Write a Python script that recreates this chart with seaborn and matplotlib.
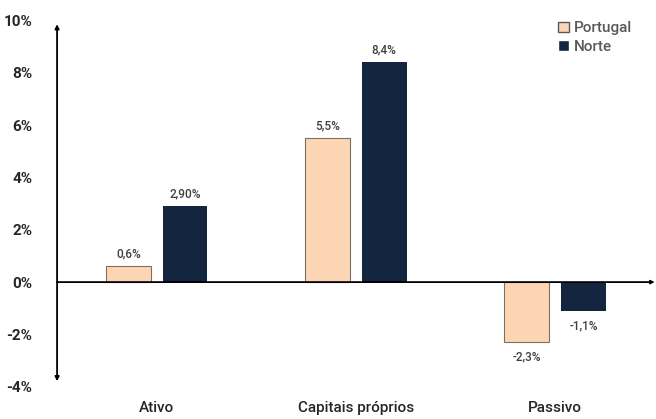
import pandas as pd
import matplotlib.pyplot as plt
import seaborn as sns

# ------------------------------
# Data
# ------------------------------
categories = ['Ativo', 'Capitais próprios', 'Passivo']
portugal = [0.6, 5.5, -2.3]
norte = [2.9, 8.4, -1.1]
portugal_labels = ['0,6%', '5,5%', '-2,3%']
norte_labels = ['2,90%', '8,4%', '-1,1%']
yticks = [-4, -2, 0, 2, 4, 6, 8, 10]

df = pd.DataFrame({
    'categoria': categories * 2,
    'serie': ['Portugal'] * 3 + ['Norte'] * 3,
    'valor': portugal + norte,
})

sns.set_style('white')
plt.rcParams['font.family'] = ['Roboto', 'DejaVu Sans']

fig = plt.figure(figsize=(6.56, 4.19), dpi=100)
ax = fig.add_axes([0.087, 0.077, 0.911, 0.874])

palette = {'Portugal': '#FCD5B4', 'Norte': '#13253F'}
sns.barplot(data=df, x='categoria', y='valor', hue='serie', palette=palette,
            width=0.57, gap=0.21, saturation=1, ax=ax, legend=True)

# edges: peach bars get a grey outline
for bar in ax.containers[0]:
    bar.set_edgecolor('#7f6f60')
    bar.set_linewidth(0.8)
for bar in ax.containers[1]:
    bar.set_linewidth(0)

# value labels
for cont, labels in zip(ax.containers, [portugal_labels, norte_labels]):
    for bar, lab in zip(cont, labels):
        h = bar.get_height()
        x = bar.get_x() + bar.get_width() / 2
        if h >= 0:
            ax.annotate(lab, (x, h), xytext=(0, 4), textcoords='offset points',
                        ha='center', va='bottom', fontsize=8.5,
                        fontweight='medium', color='#404040')
        else:
            ax.annotate(lab, (x, h), xytext=(0, -6), textcoords='offset points',
                        ha='center', va='top', fontsize=8.5,
                        fontweight='medium', color='#404040')

ax.set_xlim(-0.5, 2.5)
ax.set_ylim(-4, 10)
ax.set_yticks(yticks)
ax.set_yticklabels([f'{v}%' for v in yticks], fontsize=11, fontweight='bold')
ax.tick_params(axis='y', length=0, pad=18)
ax.tick_params(axis='x', length=0, pad=10, labelsize=11)
for t in ax.get_xticklabels():
    t.set_fontweight('medium')
ax.set_xlabel('')
ax.set_ylabel('')
for s in ax.spines.values():
    s.set_visible(False)

# axis lines with arrows
ax.annotate('', xy=(0, 0.99), xytext=(0, 0.015), xycoords='axes fraction',
            arrowprops=dict(arrowstyle='<|-|>', color='black', lw=1.3,
                            mutation_scale=6, shrinkA=0, shrinkB=0))
ax.annotate('', xy=(2.5, 0), xytext=(-0.5, 0), xycoords='data',
            arrowprops=dict(arrowstyle='-|>', color='black', lw=1.3,
                            mutation_scale=5, shrinkA=0, shrinkB=0))

leg = ax.legend(loc='upper right', bbox_to_anchor=(0.985, 1.035), frameon=False,
                fontsize=11, handlelength=0.7, handleheight=0.7,
                handletextpad=0.3, labelspacing=0.3)
for t in leg.get_texts():
    t.set_color('#595959')
    t.set_fontweight('medium')
leg.legend_handles[0].set_edgecolor('#595959')

plt.savefig('out.png', dpi=100)
